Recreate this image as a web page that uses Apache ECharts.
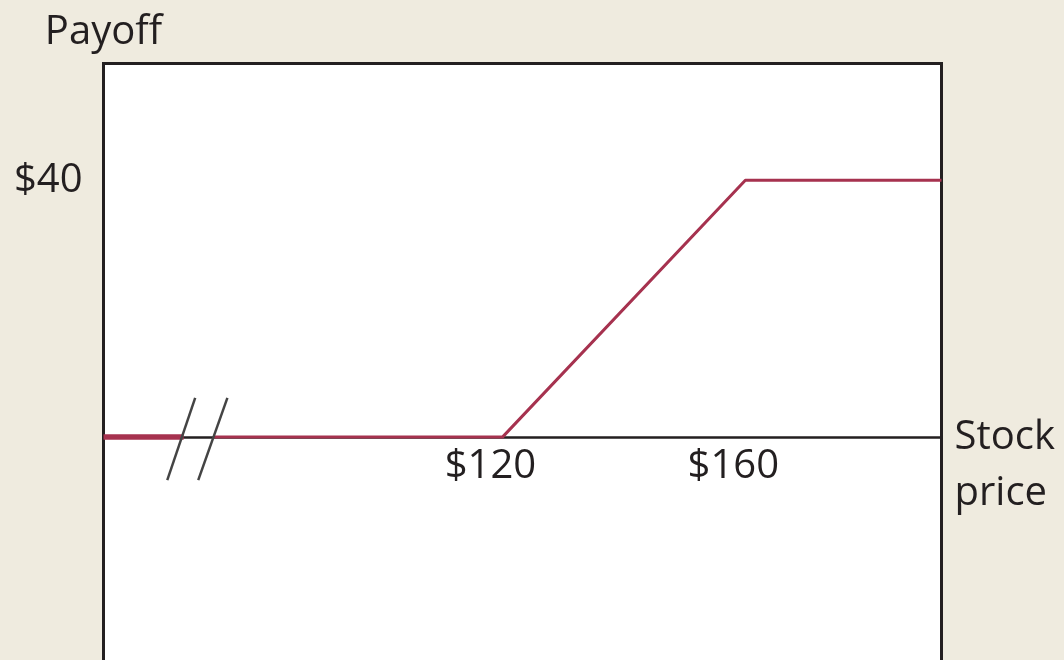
<!DOCTYPE html>
<html>
<head>
<meta charset="utf-8">
<script src="https://cdn.jsdelivr.net/npm/echarts@6/dist/echarts.min.js"></script>
<style>
  html, body { margin: 0; padding: 0; background: #efebdf; }
  #chart { width: 1064px; height: 660px; }
</style>
</head>
<body>
<div id="chart"></div>
<script>
// payoff profile (stock price, payoff)
var leftStub = [[54.3, 0], [67.5, 0]]
var payoffLine = [[72.4, 0], [120, 0], [160, 40], [192.3, 40]]
// the two "//" axis break strokes
var breakMark1 = [[64.8, -6.7], [69.4, 6.1]]
var breakMark2 = [[69.9, -6.7], [74.7, 6.1]]
var xTicks = [120, 160]
var yTicks = [40]

var ink = '#231f20'
var red = '#a6324f'
var font = 'Open Sans'

var gridTop = 63.5
var gridBottom = 665   // plot frame runs past the bottom of the picture
var yMin = -35.5
var yMax = 58.2
// pixel row of payoff = 0, so the stock price axis can sit there
var zeroRow = gridTop + (gridBottom - gridTop) * yMax / (yMax - yMin)

var myChart = echarts.init(document.getElementById('chart'))

myChart.setOption({
  backgroundColor: '#efebdf',
  animation: false,
  grid: {
    left: 103.5, top: gridTop, right: 122.5, bottom: 660 - gridBottom,
    show: true, backgroundColor: '#fff',
    borderColor: ink, borderWidth: 3,
    outerBoundsMode: 'none',
    containLabel: false
  },
  xAxis: {
    type: 'value', min: 54.3, max: 192.3,
    position: 'bottom', offset: zeroRow - gridBottom,
    name: ' \nStock\nprice', nameLocation: 'end', nameGap: 13,
    nameTextStyle: {
      fontFamily: font, fontSize: 40, color: ink, lineHeight: 56,
      align: 'left', verticalAlign: 'middle'
    },
    axisLine: { onZero: false, lineStyle: { color: ink, width: 2.5 } },
    axisTick: { show: false },
    splitLine: { show: false },
    axisLabel: {
      customValues: xTicks, margin: 9,
      fontFamily: font, fontSize: 40, color: ink,
      padding: [0, 24, 0, 0],
      formatter: function (v) { return '$' + v }
    }
  },
  yAxis: {
    type: 'value', min: yMin, max: yMax,
    name: 'Payoff', nameLocation: 'end', nameGap: 31,
    nameTextStyle: {
      fontFamily: font, fontSize: 40, color: ink,
      align: 'center', verticalAlign: 'middle'
    },
    axisLine: { show: false },
    axisTick: { show: false },
    splitLine: { show: false },
    axisLabel: {
      customValues: yTicks, margin: 21,
      fontFamily: font, fontSize: 40, color: ink,
      formatter: function (v) { return '$' + v }
    }
  },
  series: [
    {
      type: 'line', data: leftStub, symbol: 'none', z: 3,
      lineStyle: { color: red, width: 5.5 }
    },
    {
      type: 'line', data: payoffLine, symbol: 'none', z: 3,
      lineStyle: { color: red, width: 3 }
    },
    {
      type: 'line', data: breakMark1, symbol: 'none', z: 4,
      lineStyle: { color: '#444', width: 2.5 }
    },
    {
      type: 'line', data: breakMark2, symbol: 'none', z: 4,
      lineStyle: { color: '#444', width: 2.5 }
    }
  ]
})

window.onresize = function () {
  myChart.resize()
}
</script>
</body>
</html>
